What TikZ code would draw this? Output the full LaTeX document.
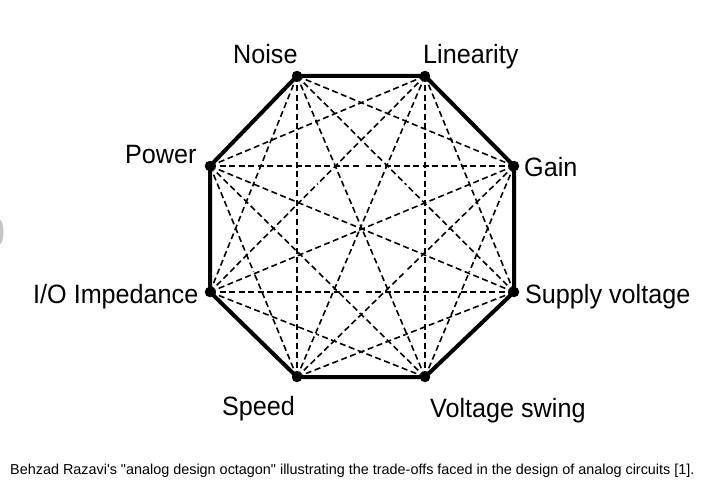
\documentclass[tikz,border=0pt]{standalone}
\usepackage{fontspec}
\setmainfont{Liberation Sans}[Ligatures=TeXOff]
\newfontfamily\labfont{Liberation Sans}[FakeStretch=0.95,Ligatures=TeXOff]
\begin{document}
\begin{tikzpicture}[x=1pt,y=-1pt,
  dot/.style={circle,fill=black,inner sep=0pt,minimum size=10.5pt},
  lab/.style={anchor=base west,inner sep=0pt,font=\labfont\fontsize{26.5}{28}\selectfont},
  captext/.style={anchor=base west,inner sep=0pt,font=\fontsize{14.4}{16}\selectfont},
  diag/.style={line width=1.6pt,dash pattern=on 6pt off 3.5pt},
  rim/.style={line width=4pt,line join=miter}]
\useasboundingbox (0,0) rectangle (705,487);
\fill[white] (0,0) rectangle (705,487);
\begin{scope}
\clip (0,0) rectangle (705,487);
\fill[gray!45] (0,232) ellipse [x radius=3.5pt, y radius=12pt];
\end{scope}
\node[dot] (v1) at (297,76) {};
\node[dot] (v2) at (425,76) {};
\node[dot] (v3) at (514,166) {};
\node[dot] (v4) at (514,292) {};
\node[dot] (v5) at (425,377) {};
\node[dot] (v6) at (297,377) {};
\node[dot] (v7) at (210,292) {};
\node[dot] (v8) at (210,166) {};
\foreach \i/\j in {1/3,1/4,1/5,1/6,1/7,2/4,2/5,2/6,2/7,2/8,3/5,3/6,3/7,3/8,4/6,4/7,4/8,5/7,5/8,6/8}{
  \path (v\i.center) -- (v\j.center) coordinate[pos=0.5] (mid);
  \draw[diag] (v\i.center) -- (mid);
  \draw[diag] (v\j.center) -- (mid);
}
\draw[rim] (v1.center) -- (v2.center) -- (v3.center) -- (v4.center) -- (v5.center) -- (v6.center) -- (v7.center) -- (v8.center) -- cycle;
\node[lab] (noise) at (233,64) {Noise};
\node[lab] (lin) at (423,64) {Linearity};
\node[lab] (gain) at (524,176) {Gain};
\node[lab] (supply) at (525,303) {Supply voltage};
\node[lab] (swing) at (430,417) {Voltage swing};
\node[lab] (speed) at (222,415) {Speed};
\node[lab] (io) at (33,303) {I/O Impedance};
\node[lab] (power) at (125,163) {Power};
\node[captext] (caption) at (10,474) {Behzad Razavi's "analog design octagon" illustrating the trade-offs faced in the design of analog circuits [1].};
\end{tikzpicture}
\end{document}
